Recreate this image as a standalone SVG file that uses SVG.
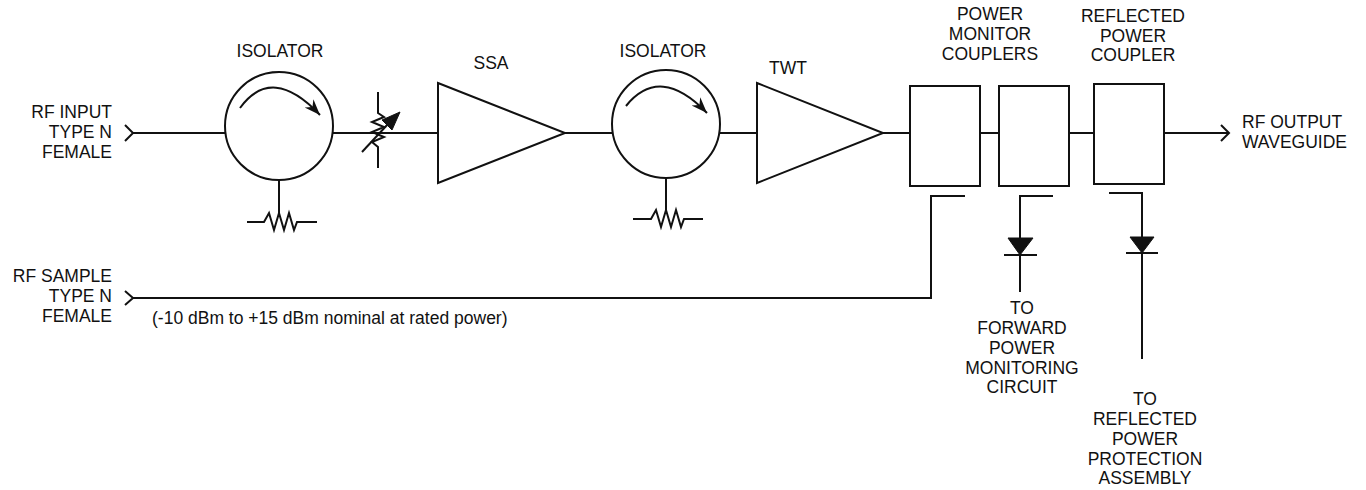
<svg xmlns="http://www.w3.org/2000/svg" width="1366" height="490" viewBox="0 0 1366 490">
<defs>
<style>
.ln{fill:none;stroke:#111;stroke-width:2;stroke-linejoin:miter}
.sh{fill:#fff;stroke:#111;stroke-width:2}
.fl{fill:#111;stroke:#111;stroke-width:1}
text{font-family:"Liberation Sans",Arial,sans-serif;font-size:17.5px;fill:#111}
.m{text-anchor:middle}
.e{text-anchor:end}
</style>
<marker id="ah" markerWidth="18" markerHeight="14" refX="16" refY="7" orient="auto" markerUnits="userSpaceOnUse">
<path d="M0,1 L16,7 L0,13 L5,7z" fill="#111"/>
</marker>
</defs>
<rect width="1366" height="490" fill="#fff"/>

<g id="connectors">
<path class="ln" d="M125,125 L133,133 L125,141"/>
<path class="ln" d="M133,133 H225"/>
<path class="ln" d="M333,133 H438"/>
<path class="ln" d="M565,133 H612"/>
<path class="ln" d="M720,133 H757"/>
<path class="ln" d="M883,133 H910"/>
<path class="ln" d="M980,133 H999"/>
<path class="ln" d="M1069,133 H1094"/>
<path class="ln" d="M1164,133 H1229"/>
<path class="ln" d="M1221,125 L1229,133 L1221,141"/>
<path class="ln" d="M125,291 L133,298 L125,305"/>
<path class="ln" d="M133,298 H931 V196 H965"/>
<path class="ln" d="M1053,196 H1020 V238"/>
<path class="ln" d="M1020,255 V292"/>
<path class="ln" d="M1109,193 H1142 V237"/>
<path class="ln" d="M1142,253 V359"/>
</g>

<g id="label-rf-input">
<text class="e" x="112" y="118">RF INPUT</text>
<text class="e" x="112" y="138">TYPE N</text>
<text class="e" x="112" y="158">FEMALE</text>
</g>

<g id="isolator1">
<text class="m" x="280" y="57">ISOLATOR</text>
<circle class="sh" cx="279" cy="126" r="54"/>
<path class="ln" d="M240,108 Q272,64 320,115" marker-end="url(#ah)"/>
<path class="ln" d="M279,180 V213"/>
<path class="ln" d="M247,222 H264 L269,213 L274,230 L279,213 L284,230 L289,213 L294,230 L297,222 H317"/>
</g>

<g id="attenuator">
<path class="ln" d="M378,92 V113 L384,117 L372,122 L384,127 L372,132 L384,137 L372,142 L378,147 V168"/>
<path class="ln" d="M362,152 L388,124"/>
<polygon class="fl" points="400,112 382,120 392,130"/>
</g>

<g id="ssa">
<text class="m" x="491" y="69">SSA</text>
<polygon class="sh" points="438,83 565,133 438,183"/>
</g>

<g id="isolator2">
<text class="m" x="663" y="57">ISOLATOR</text>
<circle class="sh" cx="666" cy="124" r="54"/>
<path class="ln" d="M626,106 Q660,64 707,113" marker-end="url(#ah)"/>
<path class="ln" d="M666,178 V210"/>
<path class="ln" d="M633,219 H651 L656,210 L661,227 L666,210 L671,227 L676,210 L681,227 L684,219 H703"/>
</g>

<g id="twt">
<text class="m" x="788" y="74">TWT</text>
<polygon class="sh" points="757,83 883,133 757,183"/>
</g>

<g id="power-monitor-couplers">
<text class="m" x="990" y="20">POWER</text>
<text class="m" x="990" y="40">MONITOR</text>
<text class="m" x="990" y="60">COUPLERS</text>
<rect class="sh" x="910" y="86" width="70" height="100"/>
<rect class="sh" x="999" y="86" width="70" height="100"/>
</g>

<g id="reflected-power-coupler">
<text class="m" x="1133" y="22">REFLECTED</text>
<text class="m" x="1133" y="42">POWER</text>
<text class="m" x="1133" y="61">COUPLER</text>
<rect class="sh" x="1094" y="84" width="70" height="100"/>
</g>

<g id="label-rf-output">
<text x="1242" y="128">RF OUTPUT</text>
<text x="1242" y="148">WAVEGUIDE</text>
</g>

<g id="diode-forward">
<polygon class="fl" points="1008,238 1033,238 1020,255"/>
<path class="ln" d="M1004,255 H1037"/>
<text class="m" x="1022" y="314">TO</text>
<text class="m" x="1022" y="334">FORWARD</text>
<text class="m" x="1022" y="354">POWER</text>
<text class="m" x="1022" y="374">MONITORING</text>
<text class="m" x="1022" y="393">CIRCUIT</text>
</g>

<g id="diode-reflected">
<polygon class="fl" points="1130,237 1154,237 1142,253"/>
<path class="ln" d="M1126,253 H1158"/>
<text class="m" x="1145" y="405">TO</text>
<text class="m" x="1145" y="425">REFLECTED</text>
<text class="m" x="1145" y="445">POWER</text>
<text class="m" x="1145" y="465">PROTECTION</text>
<text class="m" x="1145" y="484">ASSEMBLY</text>
</g>

<g id="label-rf-sample">
<text class="e" x="112" y="282">RF SAMPLE</text>
<text class="e" x="112" y="302">TYPE N</text>
<text class="e" x="112" y="322">FEMALE</text>
<text x="152" y="324">(-10 dBm to +15 dBm nominal at rated power)</text>
</g>
</svg>
